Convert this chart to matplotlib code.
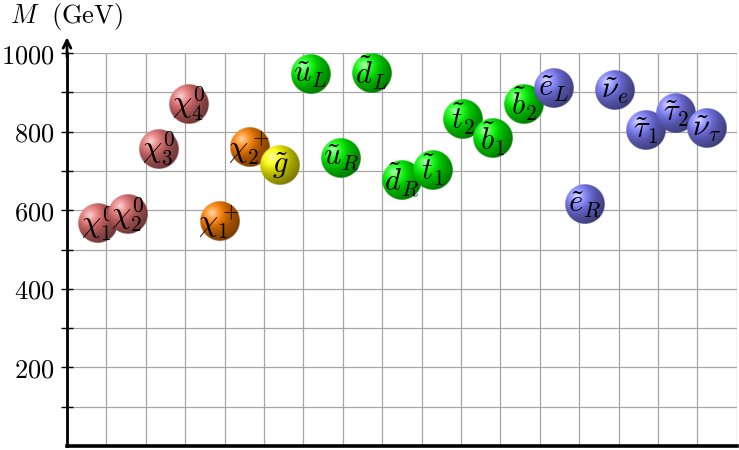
import numpy as np
import matplotlib.pyplot as plt
from matplotlib.colors import to_rgb
from matplotlib.ticker import FixedLocator, FuncFormatter

plt.rcParams['mathtext.fontset'] = 'cm'
plt.rcParams['font.family'] = 'DejaVu Serif'

# sparticle spectrum, masses in GeV
labels = [r'\chi_1^0', r'\chi_2^0', r'\chi_3^0', r'\chi_4^0',
          r'\chi_1^+', r'\chi_2^+', r'\tilde{g}',
          r'\tilde{u}_L', r'\tilde{u}_R', r'\tilde{d}_L', r'\tilde{d}_R',
          r'\tilde{t}_1', r'\tilde{t}_2', r'\tilde{b}_1', r'\tilde{b}_2',
          r'\tilde{e}_L', r'\tilde{e}_R', r'\tilde{\nu}_e',
          r'\tilde{\tau}_1', r'\tilde{\tau}_2', r'\tilde{\nu}_\tau']
masses = [566, 590, 756, 870, 571, 759, 714, 946, 733, 948, 677,
          702, 832, 782, 870, 909, 614, 905, 802, 847, 808]
groups = (['neutralino'] * 4 + ['chargino'] * 2 + ['gluino'] +
          ['squark'] * 8 + ['slepton'] * 6)
group_colors = {'neutralino': (0.9, 0.45, 0.45), 'chargino': (1.0, 0.5, 0.0),
                'gluino': (1.0, 1.0, 0.0), 'squark': (0.0, 1.0, 0.0),
                'slepton': (0.5, 0.5, 1.0)}

y_major = [200, 400, 600, 800, 1000]
y_minor = [100, 300, 500, 700, 900]
slots = np.arange(1, len(masses) + 1)
x_max = 22          # 17 grid columns
n_cols = 17


def ball_image(color, n=160):
    # ball shading, highlight up-left, softer than tikz default
    base = np.array(to_rgb(color))
    u = np.linspace(-1, 1, n)
    X, Y = np.meshgrid(u, -u)
    r = np.hypot(X, Y)
    d = np.hypot(X + 0.4, Y - 0.4)
    stops = [0, 0.36, 0.72, 1.0, 1.6]
    cols = [0.3 * base + 0.7, 0.85 * base + 0.15, 0.8 * base, 0.65 * base,
            0.45 * base]
    rgb = np.stack([np.interp(d, stops, [c[k] for c in cols]) for k in range(3)],
                   axis=-1)
    alpha = np.clip((1 - r) * n / 2, 0, 1)
    return np.dstack([rgb, alpha])


fig = plt.figure(figsize=(7.39, 4.5), dpi=100)
ax = fig.add_axes([67 / 739, 4 / 450, 669.7 / 739, 393 / 450])
ax.set_xlim(0, x_max)
ax.set_ylim(0, 1000)

# grid
ax.xaxis.set_major_locator(FixedLocator(np.linspace(0, x_max, n_cols + 1)))
ax.yaxis.set_major_locator(FixedLocator(y_major))
ax.yaxis.set_minor_locator(FixedLocator(y_minor))
ax.grid(True, which='both', color='#a6a6a6', lw=0.9, zorder=0)
ax.tick_params(axis='x', length=0, labelbottom=False)
ax.tick_params(axis='y', which='both', direction='inout', length=8, width=1,
               labelsize=19, pad=5)
ax.yaxis.set_major_formatter(FuncFormatter(lambda v, p: f'${v:.0f}$'))

for s in ['top', 'right']:
    ax.spines[s].set_visible(False)
ax.spines['left'].set_linewidth(2)
ax.spines['bottom'].set_linewidth(2.6)
ax.spines['left'].set_zorder(50)
ax.spines['bottom'].set_zorder(50)

ax.annotate('', xy=(0, 1.04), xytext=(0, 0.99), xycoords='axes fraction',
            arrowprops=dict(arrowstyle='->', lw=2, color='black',
                            shrinkA=0, shrinkB=0, mutation_scale=14),
            annotation_clip=False)

# balls: radius half a grid column
rx = 0.5 * x_max / n_cols
ry = 50
for i, (x, m, lab, g) in enumerate(zip(slots, masses, labels, groups)):
    ax.imshow(ball_image(group_colors[g]), extent=(x - rx, x + rx, m - ry, m + ry),
              aspect='auto', interpolation='bilinear', zorder=2 + 2 * i)
    ax.text(x, m, f'${lab}$', ha='center', va='center', fontsize=22,
            zorder=3 + 2 * i)

ax.set_xlim(0, x_max)
ax.set_ylim(0, 1000)

fig.text(10 / 739, 1 - 16 / 450, r'$M\ \ (\mathrm{GeV})$', fontsize=19,
         va='center', ha='left')

fig.savefig('out.png', dpi=100)
